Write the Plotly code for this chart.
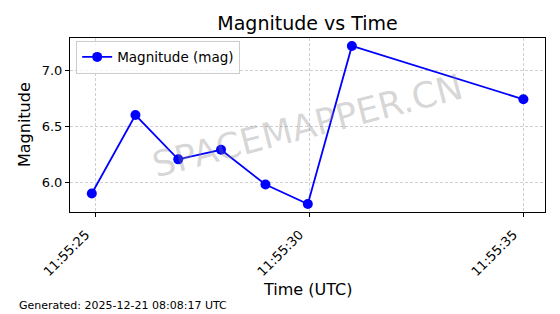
import plotly.graph_objects as go

times = ["2025-12-21 11:55:24.910", "2025-12-21 11:55:25.930", "2025-12-21 11:55:26.930",
         "2025-12-21 11:55:27.930", "2025-12-21 11:55:28.970", "2025-12-21 11:55:29.960",
         "2025-12-21 11:55:30.990", "2025-12-21 11:55:35.000"]
magnitudes = [5.90, 6.60, 6.205, 6.29, 5.98, 5.806, 7.217, 6.741]
series_name = "Magnitude (mag)"
title = "Magnitude vs Time"
x_label = "Time (UTC)"
y_label = "Magnitude"
footer = "Generated: 2025-12-21 08:08:17 UTC"
watermark = "SPACEMAPPER.CN"

FONT = "DejaVu Sans"

fig = go.Figure()
fig.add_trace(go.Scatter(
    x=times, y=magnitudes, mode="lines+markers", name=series_name,
    line=dict(color="#0000ff", width=1.8),
    marker=dict(color="#0000ff", size=10),
))

fig.update_layout(
    width=560, height=314,
    margin=dict(l=70, r=15, t=38, b=102),
    paper_bgcolor="white", plot_bgcolor="white",
    font=dict(family=FONT, color="black", size=13),
    showlegend=True,
    title=dict(text=title, xref="paper", x=0.5, xanchor="center", y=1 - 23 / 314, yanchor="middle",
               font=dict(family=FONT, size=19, color="black")),
    legend=dict(x=0.013, y=0.985, xanchor="left", yanchor="top",
                bgcolor="rgba(255,255,255,0.8)", bordercolor="#cccccc", borderwidth=1,
                font=dict(family=FONT, size=13.5)),
)

grid = dict(showgrid=True, gridcolor="#d0d0d0", griddash="3px,2px", gridwidth=1)

fig.update_xaxes(
    type="date",
    range=["2025-12-21 11:55:24.400", "2025-12-21 11:55:35.505"],
    tick0="2025-12-21 11:55:25", dtick=5000, tickformat="%H:%M:%S",
    tickangle=-45, ticks="outside", ticklen=4, tickcolor="black",
    ticklabelshift=-10, ticklabelstandoff=5,
    showline=True, linecolor="black", linewidth=1, mirror=True,
    tickfont=dict(family=FONT, size=13), zeroline=False, **grid,
)
fig.update_yaxes(
    range=[5.735, 7.288], tickvals=[6.0, 6.5, 7.0], ticktext=["6.0", "6.5", "7.0"],
    ticks="outside", ticklen=4, tickcolor="black",
    showline=True, linecolor="black", linewidth=1, mirror=True,
    tickfont=dict(family=FONT, size=13), zeroline=False, **grid,
)

# axis titles
fig.add_annotation(text=x_label, xref="paper", yref="paper", x=0.5, y=(212 - 289) / 174,
                   showarrow=False, xanchor="center", yanchor="middle",
                   font=dict(family=FONT, size=16, color="black"))
fig.add_annotation(text=y_label, xref="paper", yref="paper", x=(24 - 70) / 475, y=0.5,
                   showarrow=False, xanchor="center", yanchor="middle", textangle=-90,
                   font=dict(family=FONT, size=16, color="black"))
# footer
fig.add_annotation(text=footer, xref="paper", yref="paper", x=(17 - 70) / 475, y=(212 - 305) / 174,
                   showarrow=False, xanchor="left", yanchor="middle",
                   font=dict(family=FONT, size=11, color="black"))
# watermark
fig.add_annotation(text=watermark, xref="paper", yref="paper", x=0.5, y=0.5,
                   showarrow=False, xanchor="center", yanchor="middle", textangle=-14.5,
                   font=dict(family=FONT, size=35.5, color="rgba(128,128,128,0.32)"))

fig.write_html("out.html")
